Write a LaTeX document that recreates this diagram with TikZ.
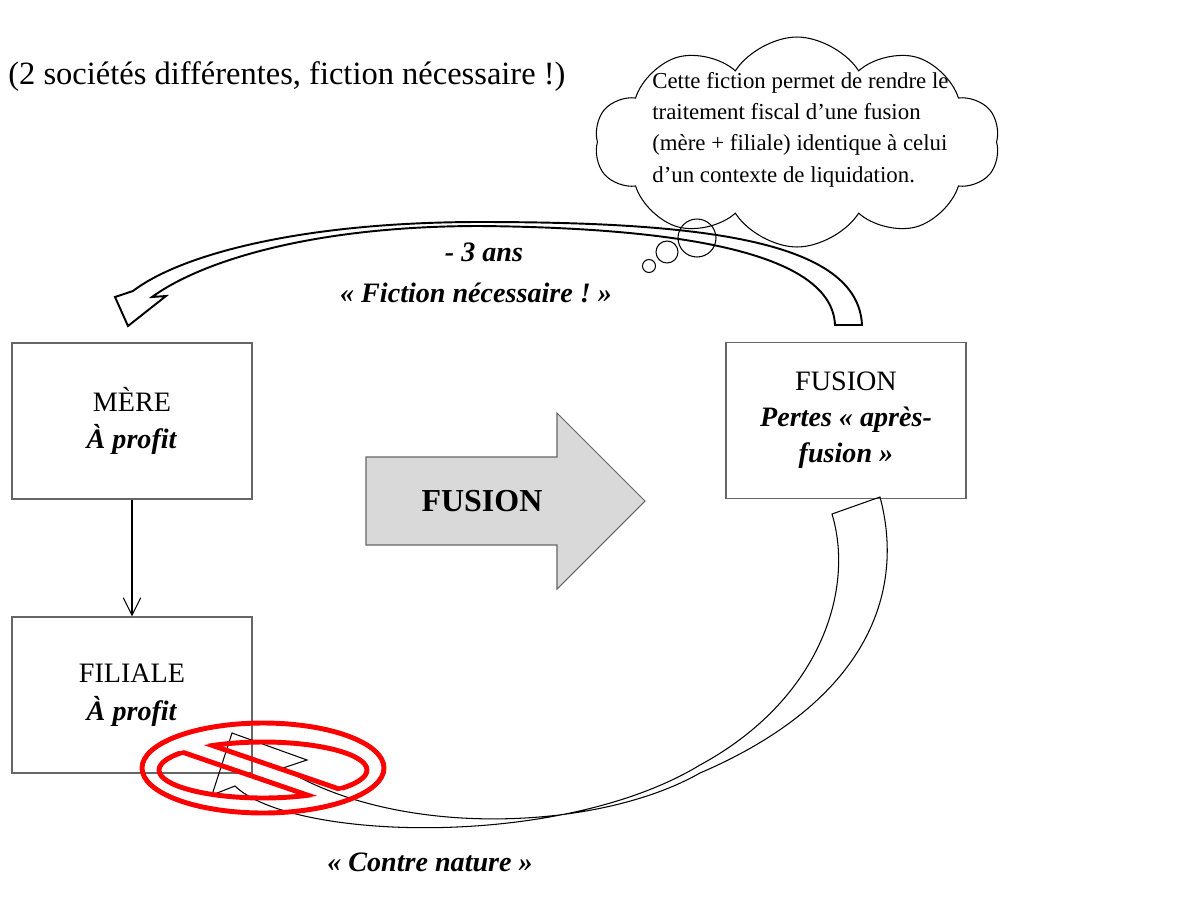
\documentclass[tikz,border=0pt]{standalone}
\usepackage{fontspec}
\setmainfont{Liberation Serif}
\usetikzlibrary{shapes.symbols,arrows.meta}
\begin{document}
\begin{tikzpicture}[x=0.02cm,y=-0.02cm,
  box/.style={draw=black!60, line width=0.7pt, minimum width=4.8cm, minimum height=3.12cm,
    align=center, inner sep=0pt, font=\fontsize{16}{21.5}\selectfont},
  bi/.style={font=\fontsize{16}{20}\selectfont\bfseries\itshape},
  thin/.style={line width=0.6pt},
  redsym/.style={draw=red, line width=2.8pt},
  bubble/.style={circle, draw, line width=0.6pt, inner sep=0pt}]
\useasboundingbox (0,0) rectangle (1184,907);

% heading
\node[anchor=west, inner sep=0pt, font=\fontsize{18.5}{22}\selectfont] (head) at (8,77)
  {(2 sociétés différentes, fiction nécessaire !)};

% boxes
\node[box] (mere) at (132,421) {MÈRE\\\textbf{\textit{À profit}}};
\node[box] (filiale) at (132,695) {FILIALE\\\textbf{\textit{À profit}}};
\node[box, font=\fontsize{16}{20.5}\selectfont] (fusbox) at (846,420.5)
  {FUSION\\\textbf{\textit{Pertes «~après-}}\\\textbf{\textit{fusion~»}}};

\draw[thin, -{Straight Barb[length=10pt,width=10pt]}] (mere.south) -- (filiale.north);

% big FUSION arrow
\draw[draw=black!60, fill=black!15, line width=0.6pt]
  (366,457) -- (557,457) -- (557,413) -- (645,501) -- (557,589) -- (557,545) -- (366,545) -- cycle;
\node[font=\fontsize{18.2}{20}\selectfont\bfseries] (fusarrow) at (482,501) {FUSION};

% cloud
\node[cloud, draw, line width=0.6pt, cloud puffs=10, cloud puff arc=115, aspect=2,
  minimum width=8.1cm, minimum height=4.2cm, inner sep=0pt] (cloud) at (797,142) {};
\node[anchor=north west, align=left, inner sep=0pt, font=\fontsize{13}{17.8}\selectfont] (cloudtxt) at (652,72)
  {Cette fiction permet de rendre le\\traitement fiscal d’une fusion\\(mère + filiale) identique à celui\\d’un contexte de liquidation.};

% top curved block arrow
\draw[line width=1.1pt, line join=miter]
  (862,325) .. controls (858,240) and (700,222) .. (480,222)
  .. controls (300,222) and (180,255) .. (133,291)
  -- (115,297) -- (128,326) -- (166,296) -- (152,297)
  .. controls (200,262) and (310,226) .. (480,226)
  .. controls (690,228) and (832,255) .. (835,325) -- cycle;
\node[bi] (l3ans) at (484,252) {- 3 ans};
\node[bi] (lfic) at (476,293) {«~Fiction nécessaire~!~»};

% thought bubbles
\node[bubble, minimum size=0.76cm] (b1) at (697,238) {};
\node[bubble, minimum size=0.44cm] (b2) at (667,252) {};
\node[bubble, minimum size=0.26cm] (b3) at (649,266) {};

% bottom curved block arrow
\draw[thin, line join=miter]
  (880,497) .. controls (905,590) and (870,700) .. (700,773)
  .. controls (600,830) and (400,840) .. (283,768)
  -- (307,760) -- (232,733) -- (212,795) -- (235,786)
  .. controls (290,840) and (560,850) .. (700,765)
  .. controls (820,700) and (855,590) .. (832,514) -- cycle;
\node[bi] (lcontre) at (430,862) {«~Contre nature~»};

% red "no" symbol
\draw[redsym] (263,768) ellipse [x radius=2.42cm, y radius=0.9cm];
\begin{scope}
  \clip (100,706.8) -- (420,816.8) -- (420,600) -- (100,600) -- cycle;
  \draw[redsym] (263,770) ellipse [x radius=2.08cm, y radius=0.56cm];
\end{scope}
\begin{scope}
  \clip (100,723.8) -- (420,833.8) -- (420,900) -- (100,900) -- cycle;
  \draw[redsym] (263,770) ellipse [x radius=2.08cm, y radius=0.56cm];
\end{scope}
\begin{scope}
  \clip (263,770) ellipse [x radius=2.12cm, y radius=0.6cm];
  \draw[redsym] (100,706.8) -- (420,816.8);
  \draw[redsym] (100,723.8) -- (420,833.8);
\end{scope}
\end{tikzpicture}
\end{document}
